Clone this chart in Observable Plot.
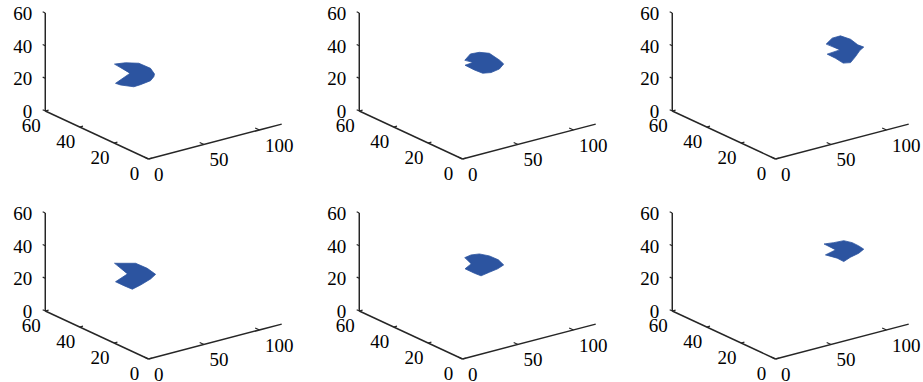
<!DOCTYPE html>
<html><head><meta charset="utf-8">
<script src="https://cdn.jsdelivr.net/npm/d3@7"></script>
<script src="https://cdn.jsdelivr.net/npm/@observablehq/plot@0.6"></script>
<style>
html,body{margin:0;padding:0;background:#fff;overflow:hidden;width:923px;height:382px}
#chart{position:relative;width:923px;height:382px;overflow:hidden}
.panel{position:absolute;width:314px;height:200px}
.panel svg{max-width:none !important;width:314px;height:200px}
</style></head><body><div id="chart"></div>
<script>
// axis limits and tick labels
const xMax = 120, yMax = 60, zMax = 60;
const xTicks = [0, 50, 100];
const yTicks = [0, 20, 40, 60];
const zTicks = [0, 20, 40, 60];

// position of the shape in each panel (data units)
const fishX = [33.9, 65.9, 109.1, 34.4, 65.9, 108.2];
const fishY = [30, 30, 30, 30, 30, 30];
const fishZ = [30.7, 32.4, 32.7, 30.0, 31.2, 31.3];

// outline of the shape in each panel, offsets [horizontal, vertical] in data units
const outline1 = [[-17.7,6.7],[-8.1,7.5],[3.9,7.2],[14.4,4.1],[18,0.6],[17.4,-1.0],[14.4,-3.5],[5.4,-5.9],[-0.6,-7.2],[-12.6,-6.1],[-17.1,-5.1],[-4.2,1.0]];
const outline2 = [[-17.1,1.8],[-12.3,5.5],[-4.2,6.5],[4.8,5.9],[13.8,1.8],[17.7,-0.6],[13.8,-3.7],[6.3,-5.9],[-1.2,-6.3],[-8.7,-4.3],[-17.1,-1.4],[-10.2,0.2]];
const outline3 = [[-16.7,3.7],[-11.5,7.2],[-4.1,8.6],[5.0,6.5],[11.5,3.1],[16.9,1.7],[13.3,-0.4],[9.5,-4.1],[5.0,-7.8],[-1.6,-8.1],[-8.6,-5.1],[-16.0,-2.6],[-4.7,0]];
const outline4 = [[-18.2,7.8],[0.5,7.8],[11.0,4.7],[18.5,1.0],[14.0,-1.8],[5.0,-5.5],[-2.5,-8.1],[-10.1,-5.9],[-17.6,-3.5],[-7.0,1.2]];
const outline5 = [[-17.1,4.5],[-11.7,6.1],[-4.2,6.7],[4.8,5.5],[12.9,3.1],[17.7,0],[12.3,-2.4],[4.8,-4.5],[-2.7,-6.7],[-8.7,-5.1],[-17.1,-2.4],[-11.7,0.6]];
const outline6 = [[-17.6,5.2],[-9.2,6.0],[-0.2,7.2],[7.4,6.0],[13.3,4.0],[17.8,2.0],[13.3,-0.5],[5.9,-2.9],[-0.2,-5.6],[-6.1,-3.5],[-16.7,-1.5],[-7.7,1.5]];
const outlines = [outline1, outline2, outline3, outline4, outline5, outline6];

// oblique 3D view (matlab-like azimuth/elevation)
const view = {yh: -1.55, xv: 0.178, yv: 0.49};
function proj(x, y, z) {
  return {h: x + view.yh * y, v: z + view.xv * x + view.yv * y};
}

// panel frame
const W = 314, Hgt = 200;
const originPx = 148, originPy = 158.5, unitX = 1.11, unitZ = 1.633;
const xDomain = [-originPx / unitX, (W - originPx) / unitX];
const yDomain = [(originPy - Hgt) / unitZ, originPy / unitZ];

const axisColor = "#262626";
const fillColor = "#2c54a0";
const font = "'Liberation Serif', 'Times New Roman', serif";

function seg(a, b) {
  const p = proj(...a), q = proj(...b);
  return {x1: p.h, y1: p.v, x2: q.h, y2: q.v};
}

const axes = [
  seg([0,0,0],[xMax,0,0]),
  seg([0,0,0],[0,yMax,0]),
  seg([0,yMax,0],[0,yMax,zMax])
];
const ticks = [
  ...xTicks.map(t => seg([t,0,0],[t,2.5,0])),
  ...yTicks.map(t => seg([0,t,0],[3,t,0])),
  ...zTicks.map(t => seg([0,yMax,t],[0,yMax+1.5,t]))
];
const xLab = xTicks.map(t => ({...proj(t,0,0), t: String(t)}));
const yLab = yTicks.map(t => ({...proj(0,t,0), t: String(t)}));
const zLab = zTicks.map(t => ({...proj(0,yMax,t), t: String(t)}));

const chart = document.getElementById("chart");
for (let i = 0; i < 6; i++) {
  const row = Math.floor(i / 3), col = i % 3;
  const c = proj(fishX[i], fishY[i], fishZ[i]);
  const shape = outlines[i].map(([u, v]) => ({h: c.h + u, v: c.v + v}));
  const svg = Plot.plot({
    width: W, height: Hgt, margin: 0,
    x: {domain: xDomain, range: [0, W], axis: null},
    y: {domain: yDomain, range: [Hgt, 0], axis: null},
    style: {background: "transparent", overflow: "visible", maxWidth: "none"},
    marks: [
      Plot.line(shape, {x: "h", y: "v", curve: "linear-closed", fill: fillColor, stroke: fillColor, strokeWidth: 0.8}),
      Plot.link(axes, {x1: "x1", y1: "y1", x2: "x2", y2: "y2", stroke: axisColor, strokeWidth: 1.5}),
      Plot.link(ticks, {x1: "x1", y1: "y1", x2: "x2", y2: "y2", stroke: axisColor, strokeWidth: 1.2}),
      Plot.text(zLab, {x: "h", y: "v", text: "t", textAnchor: "end", dx: -13, dy: 1, fontSize: 19, fontFamily: font, fill: "#000"}),
      Plot.text(yLab, {x: "h", y: "v", text: "t", textAnchor: "middle", dx: -14, dy: 14.5, fontSize: 19, fontFamily: font, fill: "#000"}),
      Plot.text(xLab, {x: "h", y: "v", text: "t", textAnchor: "start", dx: 5.5, dy: 15.5, fontSize: 19, fontFamily: font, fill: "#000"})
    ]
  });
  const holder = document.createElement("div");
  holder.className = "panel";
  holder.style.left = (col * 313.5) + "px";
  holder.style.top = (row * 200) + "px";
  holder.appendChild(svg);
  chart.appendChild(holder);
}
</script></body></html>
